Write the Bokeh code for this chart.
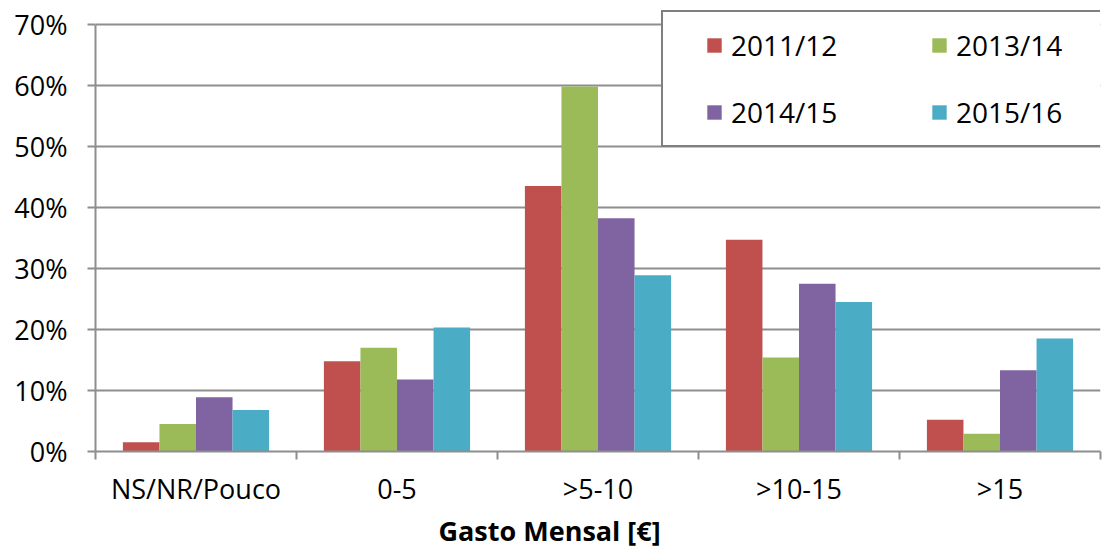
import numpy as np
from bokeh.plotting import figure
from bokeh.models import FixedTicker, PrintfTickFormatter, Legend, LegendItem, Range1d, Title
from bokeh.embed import file_html
from bokeh.resources import INLINE

categories = ["NS/NR/Pouco", "0-5", ">5-10", ">10-15", ">15"]
series_names = ["2011/12", "2013/14", "2014/15", "2015/16"]
v_2011_12 = [1.5, 14.8, 43.5, 34.7, 5.2]
v_2013_14 = [4.5, 17.0, 59.8, 15.4, 2.9]
v_2014_15 = [8.9, 11.8, 38.2, 27.5, 13.3]
v_2015_16 = [6.8, 20.3, 28.9, 24.5, 18.5]
series_values = [v_2011_12, v_2013_14, v_2014_15, v_2015_16]
colors = ["#C0504D", "#9BBB59", "#8064A2", "#4BACC6"]
y_ticks = [0, 10, 20, 30, 40, 50, 60, 70]
x_title = "Gasto Mensal [€]"

FONT = "Open Sans"
GRAY = "#8E8E8E"

p = figure(width=1104, height=548,
           x_range=Range1d(-0.5, len(categories) - 0.5),
           y_range=Range1d(0, 73.9),
           output_backend="svg", toolbar_location=None,
           min_border_left=95, min_border_right=4,
           min_border_top=0, min_border_bottom=96)
p.outline_line_color = None
p.background_fill_color = "white"
p.border_fill_color = "white"

n_series = len(series_values)
bw = 1.0 / (n_series + 1.5)
xs = np.arange(len(categories))
renderers = []
for j, vals in enumerate(series_values):
    off = (j - (n_series - 1) / 2.0) * bw
    r = p.vbar(x=xs + off, top=vals, width=bw, fill_color=colors[j], line_color=None)
    renderers.append(r)

# grid
p.xgrid.visible = False
p.ygrid.ticker = FixedTicker(ticks=y_ticks)
p.ygrid.grid_line_color = GRAY
p.ygrid.grid_line_width = 2

# y axis
ya = p.yaxis[0]
ya.ticker = FixedTicker(ticks=y_ticks)
ya.bounds = (y_ticks[0], y_ticks[-1])
ya.formatter = PrintfTickFormatter(format="%d%%")
ya.axis_line_color = GRAY
ya.axis_line_width = 2
ya.major_tick_line_color = GRAY
ya.major_tick_line_width = 2
ya.major_tick_out = 8
ya.major_tick_in = 0
ya.minor_tick_line_color = None
ya.major_label_standoff = 20
ya.major_label_text_font = FONT
ya.major_label_text_font_size = "27px"
ya.major_label_text_color = "black"

# x axis
xa = p.xaxis[0]
xa.ticker = FixedTicker(ticks=list(range(len(categories))),
                        minor_ticks=[i - 0.5 for i in range(len(categories) + 1)])
xa.major_label_overrides = {i: c for i, c in enumerate(categories)}
xa.axis_line_color = GRAY
xa.axis_line_width = 2
xa.major_tick_line_color = None
xa.major_tick_out = 0
xa.major_tick_in = 0
xa.minor_tick_line_color = GRAY
xa.minor_tick_line_width = 2
xa.minor_tick_out = 8
xa.minor_tick_in = 0
xa.major_label_standoff = 10
xa.major_label_text_font = FONT
xa.major_label_text_font_size = "27px"
xa.major_label_text_color = "black"

# x-axis title (placed left of centre, as in the reference)
xt = Title(text=x_title, align="left", offset=343, standoff=0,
           text_font=FONT, text_font_size="27px", text_font_style="bold",
           text_color="black", vertical_align="bottom")
p.add_layout(xt, "below")

# legend (column-first fill in Bokeh -> order items so rows read 2011/12, 2013/14 / 2014/15, 2015/16)
order = [0, 2, 1, 3]
items = [LegendItem(label=series_names[j], renderers=[renderers[j]]) for j in order]
legend = Legend(items=items, ncols=2, location=(566, 304),
                glyph_width=18, glyph_height=18, label_standoff=8,
                label_height=44, label_width=176, spacing=23, padding=11, margin=0,
                border_line_color="black", border_line_width=2,
                background_fill_color="white", background_fill_alpha=1.0,
                label_text_font=FONT, label_text_font_size="28px",
                label_text_color="black")
if "title_location" in Legend.properties():
    legend.title = " "
    legend.title_location = "left"
    legend.title_text_font_size = "16px"
    legend.title_standoff = 13
p.add_layout(legend, "center")

open("out.html", "w").write(file_html(p, INLINE))
